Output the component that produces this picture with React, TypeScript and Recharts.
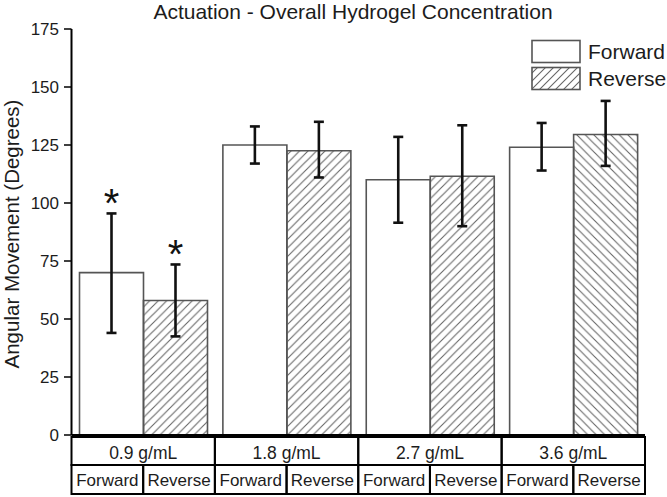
import React from 'react';
import { BarChart, Bar, XAxis, YAxis, ErrorBar, LabelList, Legend, Cell } from 'recharts';

// values (degrees)
const categories = ['0.9 g/mL', '1.8 g/mL', '2.7 g/mL', '3.6 g/mL'];
const subLabels = ['Forward', 'Reverse'];
const forward = [70, 125, 110, 124];
const forwardLow = [44, 117, 91.5, 114];
const forwardHigh = [95.5, 133, 128.5, 134.5];
const reverse = [58, 122.5, 111.5, 129.5];
const reverseLow = [42.5, 111, 90, 116];
const reverseHigh = [73.5, 135, 133.5, 144];
const significant = [true, false, false, false];
const yTicks = [0, 25, 50, 75, 100, 125, 150, 175];

const W = 667;
const H = 497;
const FONT = '"Liberation Sans", Arial, sans-serif';
const INK = '#1c1c1c';
const margin = { top: 29, right: 22, left: 0, bottom: 4 };
const Y_AXIS_W = 71.5;
const BAND = (W - margin.left - margin.right - Y_AXIS_W) / categories.length;

const data = categories.map((name, i) => ({
  name,
  forward: forward[i],
  reverse: reverse[i],
  fErr: [forward[i] - forwardLow[i], forwardHigh[i] - forward[i]],
  rErr: [reverse[i] - reverseLow[i], reverseHigh[i] - reverse[i]],
}));

// category axis drawn as the two-row table under the plot
const TableTick = (props: any) => {
  const { x, y, payload } = props;
  const left = x - BAND / 2;
  const row1 = 28;
  const row2 = 29;
  return (
    <g fontFamily={FONT} fill={INK}>
      <rect x={left} y={y} width={BAND} height={row1} fill="none" stroke="#000" strokeWidth={2} />
      <text x={x} y={y + 21.5} textAnchor="middle" fontSize={17.5} fill={INK}>{payload.value}</text>
      {subLabels.map((s, k) => (
        <g key={s}>
          <rect x={left + (k * BAND) / 2} y={y + row1} width={BAND / 2} height={row2} fill="none" stroke="#000" strokeWidth={2} />
          <text x={left + (k + 0.5) * BAND / 2} y={y + row1 + 21} textAnchor="middle" fontSize={17} fill={INK}>{s}</text>
        </g>
      ))}
    </g>
  );
};

const makeStar = (highs: number[], values: number[]) => (props: any) => {
  const { x, y, width, height, index } = props;
  if (!significant[index]) return null;
  const perUnit = height / values[index];
  const top = y + height - highs[index] * perUnit;
  return (
    <text x={x + width / 2} y={top + 4} textAnchor="middle" fontSize={40} fontFamily={FONT} fill="#111">*</text>
  );
};

const LegendBox = () => (
  <div style={{ fontFamily: FONT, color: INK, fontSize: 21 }}>
    {['Forward', 'Reverse'].map((s, i) => (
      <div key={s} style={{ display: 'flex', alignItems: 'center', height: 27 }}>
        <svg width={52} height={25} style={{ marginRight: 5 }}>
          <defs>
            <pattern id={`lg${i}`} patternUnits="userSpaceOnUse" width={8} height={8}>
              <path d="M0,8 L8,0 M-2,2 L2,-2 M6,10 L10,6" stroke="#666" strokeWidth={1.1} />
            </pattern>
          </defs>
          <rect x={1} y={1.5} width={48} height={22} fill={i === 0 ? '#fff' : `url(#lg${i})`} stroke="#555" strokeWidth={1.6} />
        </svg>
        <span>{s}</span>
      </div>
    ))}
  </div>
);

export default function App() {
  return (
    <div style={{ position: 'absolute', left: 0, top: 0, width: W, height: H, background: '#fff' }}>
      <div style={{ position: 'absolute', left: 153, width: 400, top: 0, textAlign: 'center', fontFamily: FONT, fontSize: 21, color: INK, whiteSpace: 'nowrap' }}>
        Actuation - Overall Hydrogel Concentration
      </div>
      <BarChart width={W} height={H} data={data} margin={margin} barCategoryGap={8} barGap={0}>
        <defs>
          <pattern id="hatchF" patternUnits="userSpaceOnUse" width={8.5} height={8.5}>
            <path d="M0,8.5 L8.5,0 M-2,2 L2,-2 M6.5,10.5 L10.5,6.5" stroke="#666" strokeWidth={1.1} />
          </pattern>
          <pattern id="hatchB" patternUnits="userSpaceOnUse" width={8.5} height={8.5}>
            <path d="M0,0 L8.5,8.5 M-2,6.5 L2,10.5 M6.5,-2 L10.5,2" stroke="#666" strokeWidth={1.1} />
          </pattern>
        </defs>
        <XAxis
          dataKey="name"
          height={58}
          tickSize={0}
          tickLine={false}
          axisLine={{ stroke: '#000', strokeWidth: 2 }}
          tick={<TableTick />}
          interval={0}
        />
        <YAxis
          width={Y_AXIS_W}
          domain={[0, 175]}
          ticks={yTicks}
          tickSize={7.5}
          tickMargin={5}
          axisLine={{ stroke: '#000', strokeWidth: 2 }}
          tickLine={{ stroke: '#000', strokeWidth: 1.5 }}
          tick={{ fontSize: 17, fill: INK, fontFamily: FONT }}
          label={{
            content: () => (
              <text transform="translate(19,234) rotate(-90)" textAnchor="middle" fontSize={20.5} fontFamily={FONT} fill={INK}>
                Angular Movement (Degrees)
              </text>
            ),
          }}
        />
        <Legend
          layout="horizontal"
          verticalAlign="middle"
          align="center"
          content={<LegendBox />}
          wrapperStyle={{ left: 531, top: 38, width: 140, height: 60 }}
        />
        <Bar dataKey="forward" fill="#fff" stroke="#555" strokeWidth={1.6} isAnimationActive={false}>
          <ErrorBar dataKey="fErr" width={5} stroke="#111" strokeWidth={2.6} direction="y" isAnimationActive={false} />
          <LabelList dataKey="forward" content={makeStar(forwardHigh, forward)} />
        </Bar>
        <Bar dataKey="reverse" fill="url(#hatchF)" stroke="#555" strokeWidth={1.6} isAnimationActive={false}>
          {data.map((d, i) => (
            <Cell key={d.name} fill={i === data.length - 1 ? 'url(#hatchB)' : 'url(#hatchF)'} />
          ))}
          <ErrorBar dataKey="rErr" width={5} stroke="#111" strokeWidth={2.6} direction="y" isAnimationActive={false} />
          <LabelList dataKey="reverse" content={makeStar(reverseHigh, reverse)} />
        </Bar>
      </BarChart>
    </div>
  );
}
